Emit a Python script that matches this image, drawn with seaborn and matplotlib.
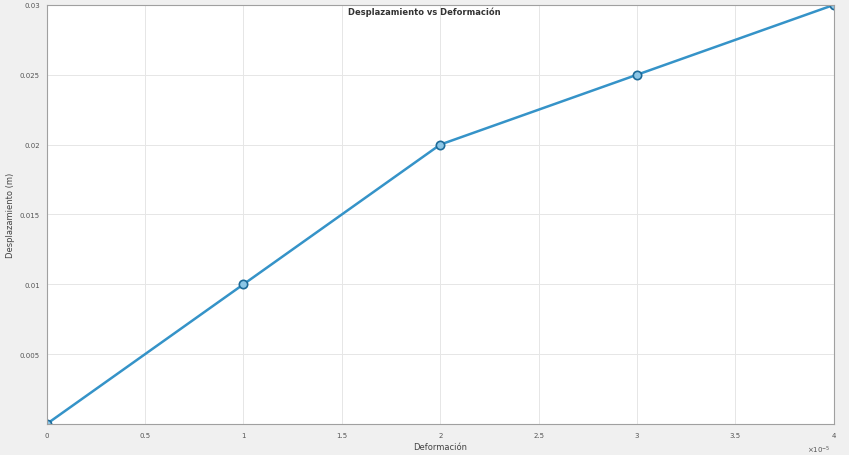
import matplotlib
matplotlib.use("Agg")
import matplotlib.pyplot as plt
import pandas as pd
import seaborn as sns

# data (x in units of 1e-5)
deformacion = [0, 1, 2, 3, 4]
desplazamiento = [0, 0.01, 0.02, 0.025, 0.03]
x_ticks = [0, 0.5, 1, 1.5, 2, 2.5, 3, 3.5, 4]
x_tick_labels = ["0", "0.5", "1", "1.5", "2", "2.5", "3", "3.5", "4"]
y_ticks = [0.005, 0.01, 0.015, 0.02, 0.025, 0.03]
y_tick_labels = ["0.005", "0.01", "0.015", "0.02", "0.025", "0.03"]

df = pd.DataFrame({"def": deformacion, "desp": desplazamiento})

sns.set_style("whitegrid")
plt.rcParams["font.family"] = ["DejaVu Sans"]

fig = plt.figure(figsize=(8.49, 4.56), dpi=100, facecolor="#f0f0f0")
ax = fig.add_axes([0.055, 0.068, 0.927, 0.919])
ax.set_facecolor("white")

sns.lineplot(data=df, x="def", y="desp", ax=ax, color="#3593c8", linewidth=1.8,
             marker="o", markersize=6, markerfacecolor="#8cc6e6",
             markeredgecolor="#1d6a98", markeredgewidth=1.2)

ax.set_xlim(0, 4)
ax.set_ylim(0, 0.03)
ax.set_xticks(x_ticks)
ax.set_xticklabels(x_tick_labels)
ax.set_yticks(y_ticks)
ax.set_yticklabels(y_tick_labels)
ax.tick_params(labelsize=5, colors="#555555", length=2, direction="in")
ax.tick_params(axis="x", pad=6)
ax.tick_params(axis="y", pad=5)
ax.grid(True, color="#e6e6e6", linewidth=0.7)
for s in ax.spines.values():
    s.set_color("#a0a0a0")
    s.set_linewidth(0.8)

ax.set_xlabel("Deformación", fontsize=6, color="#444444", labelpad=3)
ax.set_ylabel("Desplazamiento (m)", fontsize=6, color="#444444", labelpad=3)
fig.text(0.5, 1 - 12 / 456, "Desplazamiento vs Deformación", ha="center",
         va="center", fontsize=6, fontweight="bold", color="#333333")
fig.text(0.965, 1 - 450 / 456, r"$\times10^{-5}$", ha="center", va="center",
         fontsize=5, color="#555555")

fig.savefig("out.png", dpi=100, facecolor=fig.get_facecolor())
